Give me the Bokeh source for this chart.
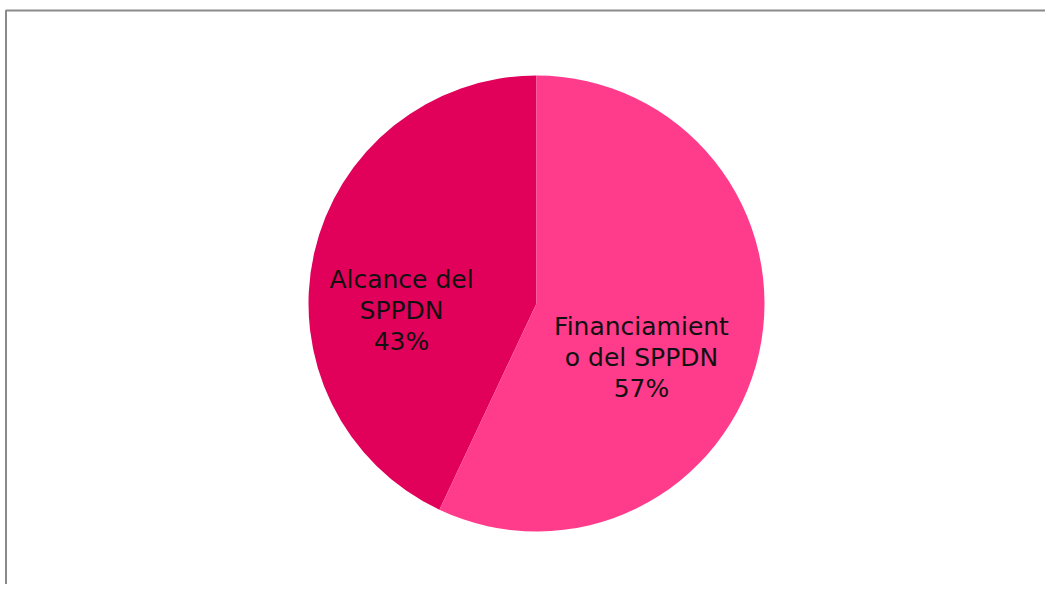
import math
from bokeh.plotting import figure
from bokeh.models import Range1d, ColumnDataSource
from bokeh.core.properties import value
from bokeh.embed import file_html
from bokeh.resources import INLINE

# ---- data ----
categories = ["Alcance del SPPDN", "Financiamiento del SPPDN"]
label_texts = ["Alcance del\nSPPDN\n43%", "Financiamient\no del SPPDN\n57%"]
shares = [43, 57]

# ---- style ----
colors = ["#E1005A", "#FF3B8B"]
W, H = 1045, 584
cx, cy, R = 536, 281, 228
label_offsets = [(-135, -7), (105, -54)]  # label block centre relative to pie centre (px)

total = float(sum(shares))
start = math.pi / 2
starts, ends = [], []
a = start
for s in shares:
    starts.append(a)
    a += s / total * 2 * math.pi
    ends.append(a)

p = figure(width=W, height=H, output_backend="svg", toolbar_location=None,
           x_range=Range1d(0, W), y_range=Range1d(0, H), min_border=0,
           outline_line_color=None, background_fill_color="white",
           border_fill_color="white")
p.axis.visible = False
p.grid.visible = False

# chart-area frame (only top and left edges visible in the window)
p.line(x=[5.5, 5.5, W + 5], y=[-5, H - 10, H - 10], line_color="#8a8a8a", line_width=2)

src = ColumnDataSource(dict(start=starts, end=ends, color=colors, cat=categories))
p.wedge(x=cx, y=cy, radius=R, start_angle="start", end_angle="end",
        fill_color="color", line_color=None, source=src)

lx = [cx + dx for dx, dy in label_offsets]
ly = [cy + dy for dx, dy in label_offsets]
p.text(x=lx, y=ly, text=label_texts, text_align="center", text_baseline="middle",
       text_font=value("DejaVu Sans"), text_font_size="25px", text_color="#111111",
       text_line_height=1.08)

open("out.html", "w").write(file_html(p, INLINE))
